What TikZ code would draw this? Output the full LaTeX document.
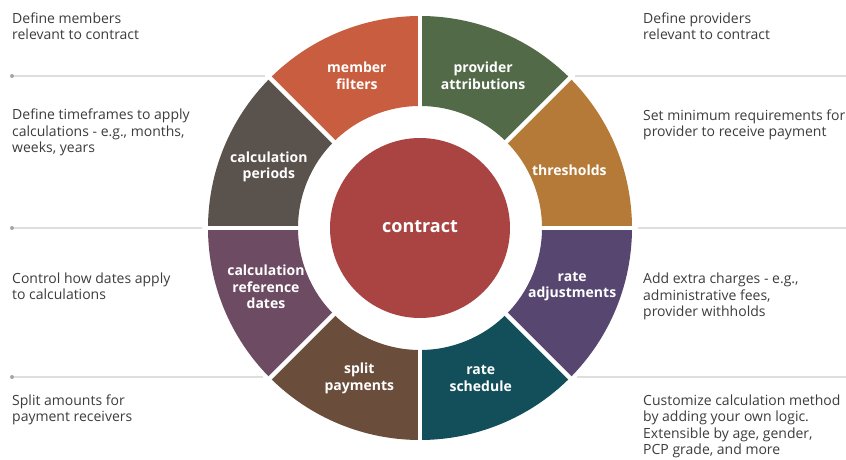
\documentclass[tikz,border=0pt]{standalone}
\usepackage{fontspec}
\setmainfont{Open Sans}

\definecolor{mbrcol}{HTML}{C85D3F}
\definecolor{provcol}{HTML}{536A48}
\definecolor{thrcol}{HTML}{B57A37}
\definecolor{adjcol}{HTML}{574670}
\definecolor{schedcol}{HTML}{134F5B}
\definecolor{splitcol}{HTML}{6A4D3B}
\definecolor{refcol}{HTML}{6D4B63}
\definecolor{percol}{HTML}{5A524D}
\definecolor{ctrcol}{HTML}{A94443}
\definecolor{txtcol}{HTML}{3C3C3C}

\begin{document}
\begin{tikzpicture}[
  x=1pt, y=1pt,
  desc/.style={anchor=base west, align=left, inner sep=0pt, text=txtcol,
               font=\fontsize{14}{16.5}\selectfont},
  lbl/.style={align=center, inner sep=0pt, text=white,
              font=\fontsize{14}{16.5}\selectfont\bfseries},
  sep/.style={draw=black!13, line width=1.4pt},
  dot/.style={circle, fill=black!35, inner sep=0pt, minimum size=4pt},
  gap/.style={draw=white, line width=4.5pt}
]
\useasboundingbox (0,0) rectangle (846,460);

% separator rules
\draw[sep] (12,384) -- (265,384);
\draw[sep] (12,232) -- (202,232);
\draw[sep] (12,83) -- (263,83);
\draw[sep] (575,384) -- (846,384);
\draw[sep] (638,232) -- (846,232);
\draw[sep] (577,83) -- (846,83);
\node[dot] (d1) at (12,384) {};
\node[dot] (d2) at (12,232) {};
\node[dot] (d3) at (12,83) {};

% ring of components around the contract
\begin{scope}[shift={(420,232)}]
\fill[mbrcol] (90:122) arc[start angle=90, end angle=135, radius=122]
  -- (135:212) arc[start angle=135, end angle=90, radius=212] -- cycle;
\fill[provcol] (45:122) arc[start angle=45, end angle=90, radius=122]
  -- (90:212) arc[start angle=90, end angle=45, radius=212] -- cycle;
\fill[thrcol] (0:122) arc[start angle=0, end angle=45, radius=122]
  -- (45:212) arc[start angle=45, end angle=0, radius=212] -- cycle;
\fill[adjcol] (-45:122) arc[start angle=-45, end angle=0, radius=122]
  -- (0:212) arc[start angle=0, end angle=-45, radius=212] -- cycle;
\fill[schedcol] (-90:122) arc[start angle=-90, end angle=-45, radius=122]
  -- (-45:212) arc[start angle=-45, end angle=-90, radius=212] -- cycle;
\fill[splitcol] (-135:122) arc[start angle=-135, end angle=-90, radius=122]
  -- (-90:212) arc[start angle=-90, end angle=-135, radius=212] -- cycle;
\fill[refcol] (180:122) arc[start angle=180, end angle=225, radius=122]
  -- (225:212) arc[start angle=225, end angle=180, radius=212] -- cycle;
\fill[percol] (135:122) arc[start angle=135, end angle=180, radius=122]
  -- (180:212) arc[start angle=180, end angle=135, radius=212] -- cycle;

% white cuts between segments
\draw[gap] (90:216) -- (-90:216);
\draw[gap] (0:216) -- (180:216);
\draw[gap] (45:216) -- (225:216);
\draw[gap] (135:216) -- (-45:216);

\fill[ctrcol] (0,0) circle[radius=90];
\node[lbl, font=\fontsize{18}{21}\selectfont\bfseries] (contract) at (0,1) {contract};

\node[lbl] (members) at (112.5:165) {member\\filters};
\node[lbl] (providers) at (67.5:165) {provider\\attributions};
\node[lbl] (thresholds) at (21:160) {thresholds};
\node[lbl] (adjust) at (-21:163) {rate\\adjustments};
\node[lbl] (schedule) at (-68:162) {rate\\schedule};
\node[lbl] (split) at (-112:162) {split\\payments};
\node[lbl] (refdates) at (201:165) {calculation\\reference\\dates};
\node[lbl] (periods) at (158:163) {calculation\\periods};
\end{scope}

% descriptions, left column (placed by their last line)
\node[desc] (mbrtxt) at (12,420) {Define members\\relevant to contract};
\node[desc] (pertxt) at (12,307) {Define timeframes to apply\\calculations - e.g., months,\\weeks, years};
\node[desc] (reftxt) at (12,160) {Control how dates apply\\to calculations};
\node[desc] (splittxt) at (12,38) {Split amounts for\\payment receivers};

% descriptions, right column
\node[desc] (provtxt) at (643,420) {Define providers\\relevant to contract};
\node[desc] (thrtxt) at (643,323) {Set minimum requirements for\\provider to receive payment};
\node[desc] (adjtxt) at (643,143) {Add extra charges - e.g.,\\administrative fees,\\provider withholds};
\node[desc] (schedtxt) at (643,5) {Customize calculation method\\by adding your own logic.\\Extensible by age, gender,\\PCP grade, and more};

\end{tikzpicture}
\end{document}
